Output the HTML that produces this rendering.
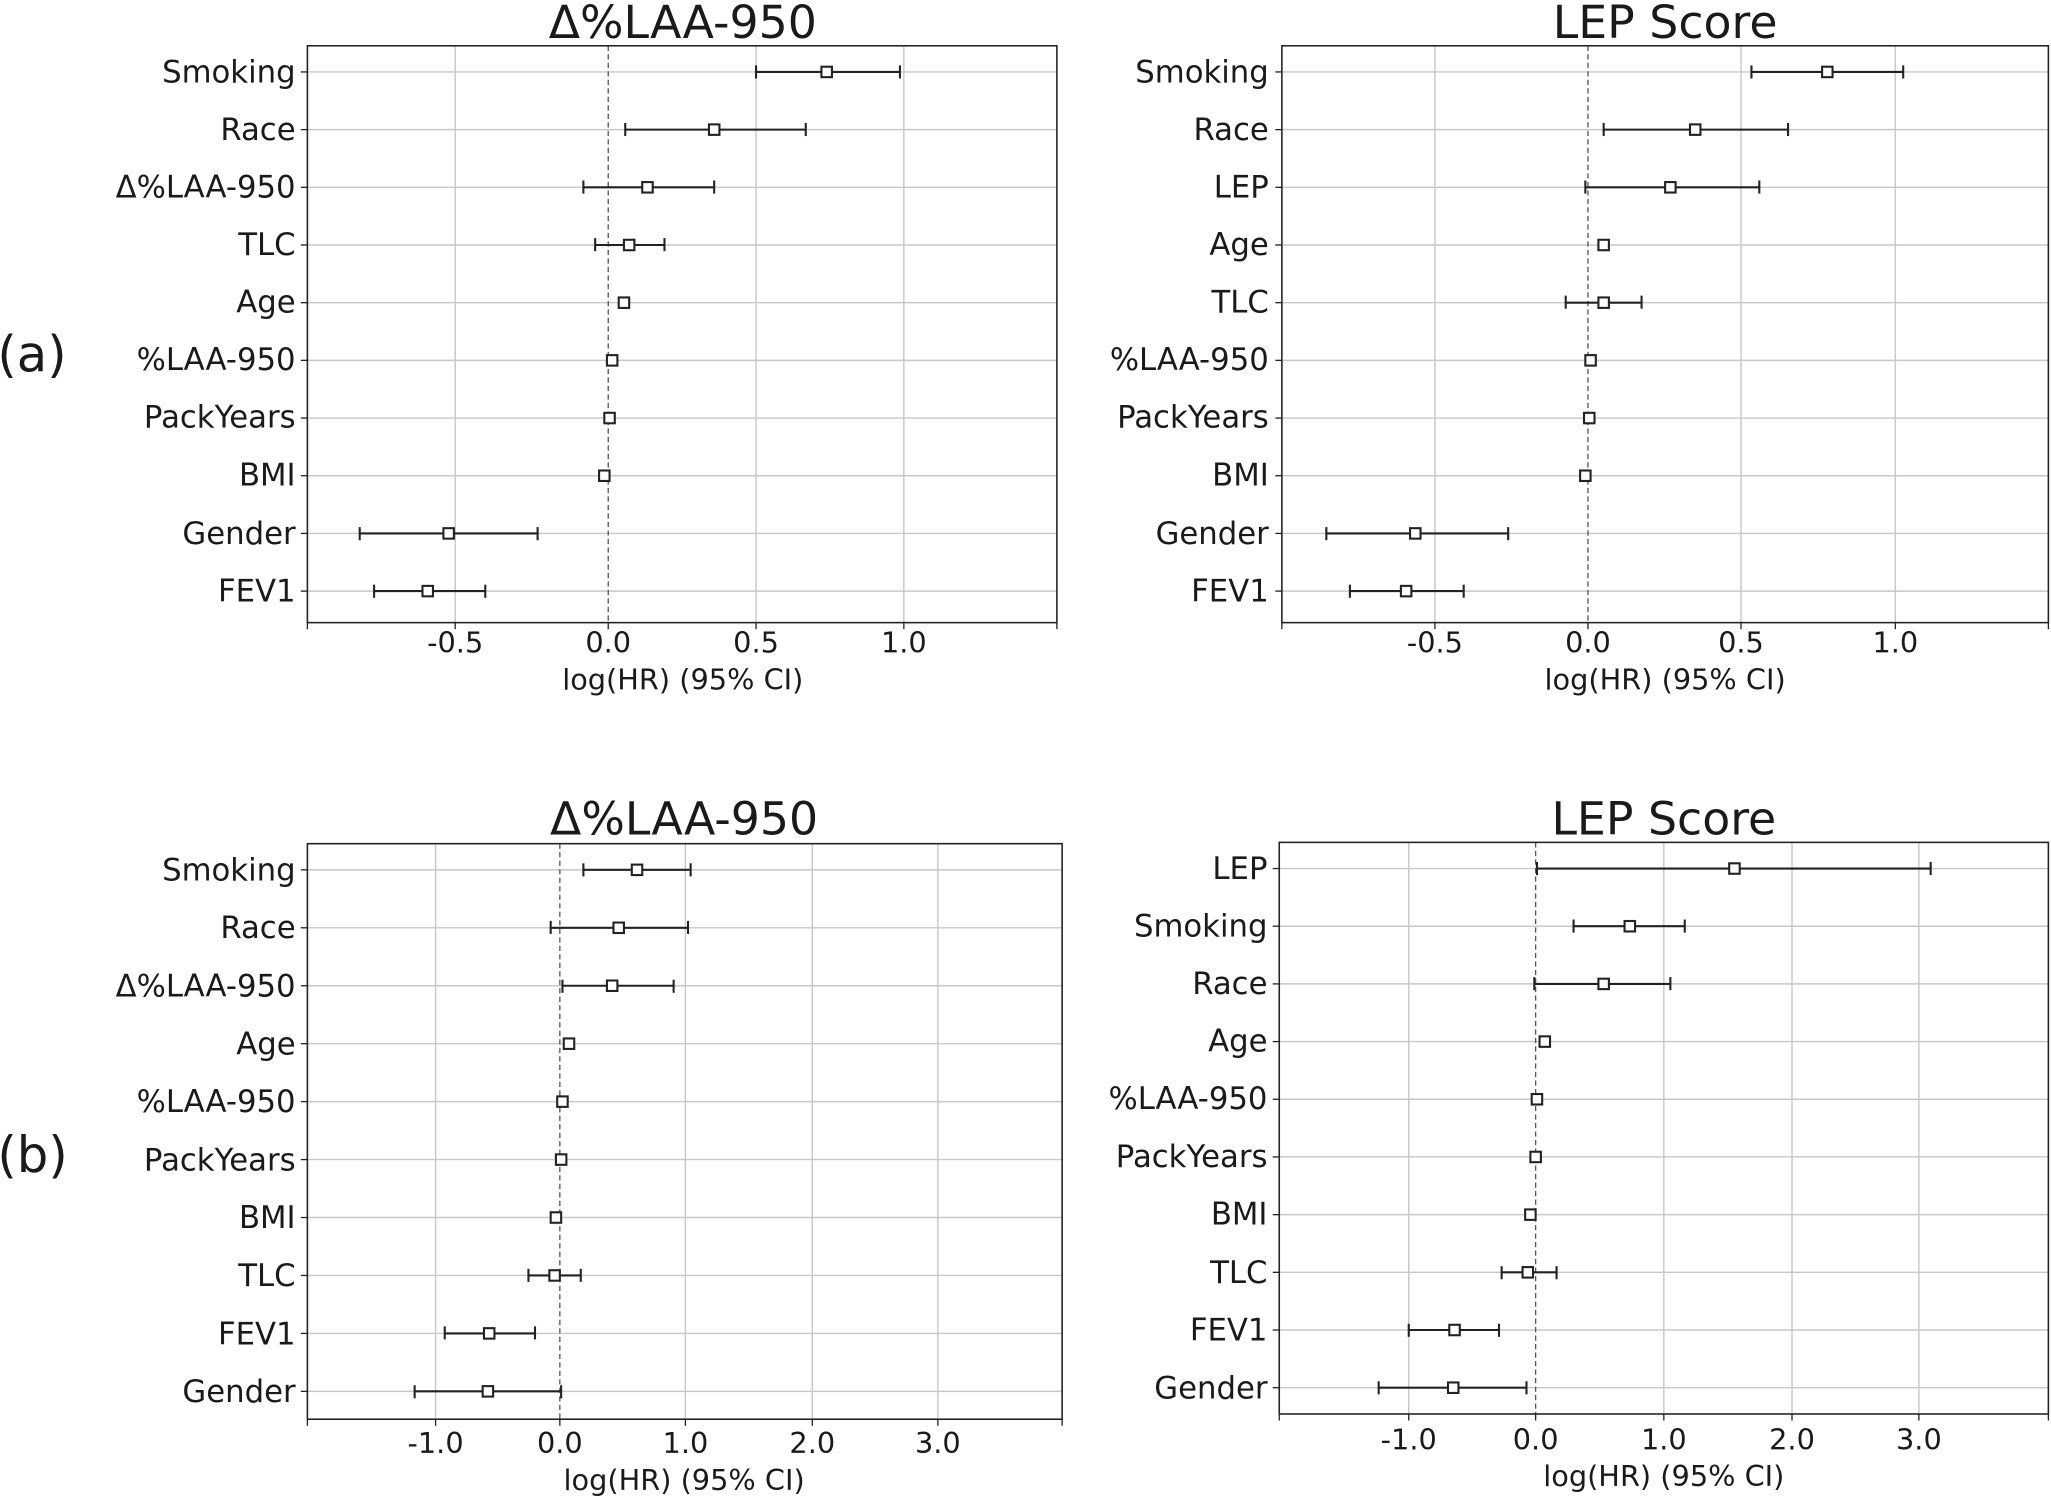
<!DOCTYPE html>
<html><head><meta charset="utf-8"><style>
html,body{margin:0;padding:0;background:#fff;}
svg{display:block;}
text{font-family:"DejaVu Sans","Liberation Sans",sans-serif;fill:#1a1a1a;}
.g{stroke:#c8c8c8;stroke-width:1.1;}
.z{stroke:#555;stroke-width:1;stroke-dasharray:4,2.5;}
.f{fill:none;stroke:#222;stroke-width:1.2;}
.e{stroke:#222;stroke-width:1.6;}
.s{fill:#fff;stroke:#222;stroke-width:1.6;}
.t{stroke:#222;stroke-width:1;}
.yl{font-size:23.5px;text-anchor:end;}
.xl{font-size:22px;text-anchor:middle;}
.ti{font-size:35px;text-anchor:middle;}
</style></head><body>
<svg width="2051" height="1496" viewBox="0 0 1568 1143.7" xmlns="http://www.w3.org/2000/svg">
<text x="-2" y="284" style="font-size:38px">(a)</text>
<text x="-2" y="896" style="font-size:38px">(b)</text>

<!-- Panel A1 -->
<g>
<text class="ti" x="522" y="29">Δ%LAA-950</text>
<line class="g" x1="348" y1="35" x2="348" y2="476"/><line class="g" x1="578" y1="35" x2="578" y2="476"/><line class="g" x1="691" y1="35" x2="691" y2="476"/>
<line class="g" x1="235" y1="55" x2="808" y2="55"/><line class="g" x1="235" y1="99.1" x2="808" y2="99.1"/><line class="g" x1="235" y1="143.2" x2="808" y2="143.2"/><line class="g" x1="235" y1="187.3" x2="808" y2="187.3"/><line class="g" x1="235" y1="231.4" x2="808" y2="231.4"/><line class="g" x1="235" y1="275.5" x2="808" y2="275.5"/><line class="g" x1="235" y1="319.6" x2="808" y2="319.6"/><line class="g" x1="235" y1="363.7" x2="808" y2="363.7"/><line class="g" x1="235" y1="407.8" x2="808" y2="407.8"/><line class="g" x1="235" y1="451.9" x2="808" y2="451.9"/>
<line class="z" x1="465" y1="35" x2="465" y2="476"/>
<rect class="f" x="235" y="35" width="573" height="441"/>
<g class="t"><line x1="230" y1="55" x2="235" y2="55"/><line x1="230" y1="99.1" x2="235" y2="99.1"/><line x1="230" y1="143.2" x2="235" y2="143.2"/><line x1="230" y1="187.3" x2="235" y2="187.3"/><line x1="230" y1="231.4" x2="235" y2="231.4"/><line x1="230" y1="275.5" x2="235" y2="275.5"/><line x1="230" y1="319.6" x2="235" y2="319.6"/><line x1="230" y1="363.7" x2="235" y2="363.7"/><line x1="230" y1="407.8" x2="235" y2="407.8"/><line x1="230" y1="451.9" x2="235" y2="451.9"/>
<line x1="235" y1="476" x2="235" y2="481"/><line x1="348" y1="476" x2="348" y2="481"/><line x1="465" y1="476" x2="465" y2="481"/><line x1="578" y1="476" x2="578" y2="481"/><line x1="691" y1="476" x2="691" y2="481"/><line x1="808" y1="476" x2="808" y2="481"/></g>
<text class="yl" x="226" y="63">Smoking</text><text class="yl" x="226" y="107">Race</text><text class="yl" x="226" y="151">Δ%LAA-950</text><text class="yl" x="226" y="195">TLC</text><text class="yl" x="226" y="239">Age</text><text class="yl" x="226" y="283">%LAA-950</text><text class="yl" x="226" y="327">PackYears</text><text class="yl" x="226" y="371">BMI</text><text class="yl" x="226" y="416">Gender</text><text class="yl" x="226" y="460">FEV1</text>
<text class="xl" x="348" y="499">-0.5</text><text class="xl" x="465" y="499">0.0</text><text class="xl" x="578" y="499">0.5</text><text class="xl" x="691" y="499">1.0</text>
<text class="xl" x="522" y="527">log(HR) (95% CI)</text>
<g class="e">
<line x1="578" y1="55" x2="688" y2="55"/><line x1="578" y1="50" x2="578" y2="60"/><line x1="688" y1="50" x2="688" y2="60"/>
<line x1="478" y1="99.1" x2="616" y2="99.1"/><line x1="478" y1="94" x2="478" y2="104"/><line x1="616" y1="94" x2="616" y2="104"/>
<line x1="446" y1="143.2" x2="546" y2="143.2"/><line x1="446" y1="138" x2="446" y2="148"/><line x1="546" y1="138" x2="546" y2="148"/>
<line x1="455" y1="187.3" x2="508" y2="187.3"/><line x1="455" y1="182" x2="455" y2="192"/><line x1="508" y1="182" x2="508" y2="192"/>
<line x1="275" y1="407.8" x2="411" y2="407.8"/><line x1="275" y1="403" x2="275" y2="413"/><line x1="411" y1="403" x2="411" y2="413"/>
<line x1="286" y1="451.9" x2="371" y2="451.9"/><line x1="286" y1="447" x2="286" y2="457"/><line x1="371" y1="447" x2="371" y2="457"/>
</g>
<g class="s"><rect x="628" y="51" width="8" height="8"/><rect x="542" y="95.1" width="8" height="8"/><rect x="491" y="139.2" width="8" height="8"/><rect x="477" y="183.3" width="8" height="8"/><rect x="473" y="227.4" width="8" height="8"/><rect x="464" y="271.5" width="8" height="8"/><rect x="462" y="315.6" width="8" height="8"/><rect x="458" y="359.7" width="8" height="8"/><rect x="339" y="403.8" width="8" height="8"/><rect x="323" y="447.9" width="8" height="8"/></g>
</g>

<!-- Panel A2 -->
<g>
<text class="ti" x="1273" y="29">LEP Score</text>
<line class="g" x1="1097" y1="35" x2="1097" y2="476"/><line class="g" x1="1331" y1="35" x2="1331" y2="476"/><line class="g" x1="1449" y1="35" x2="1449" y2="476"/>
<line class="g" x1="980" y1="55" x2="1566" y2="55"/><line class="g" x1="980" y1="99.1" x2="1566" y2="99.1"/><line class="g" x1="980" y1="143.2" x2="1566" y2="143.2"/><line class="g" x1="980" y1="187.3" x2="1566" y2="187.3"/><line class="g" x1="980" y1="231.4" x2="1566" y2="231.4"/><line class="g" x1="980" y1="275.5" x2="1566" y2="275.5"/><line class="g" x1="980" y1="319.6" x2="1566" y2="319.6"/><line class="g" x1="980" y1="363.7" x2="1566" y2="363.7"/><line class="g" x1="980" y1="407.8" x2="1566" y2="407.8"/><line class="g" x1="980" y1="451.9" x2="1566" y2="451.9"/>
<line class="z" x1="1214" y1="35" x2="1214" y2="476"/>
<rect class="f" x="980" y="35" width="586" height="441"/>
<g class="t"><line x1="975" y1="55" x2="980" y2="55"/><line x1="975" y1="99.1" x2="980" y2="99.1"/><line x1="975" y1="143.2" x2="980" y2="143.2"/><line x1="975" y1="187.3" x2="980" y2="187.3"/><line x1="975" y1="231.4" x2="980" y2="231.4"/><line x1="975" y1="275.5" x2="980" y2="275.5"/><line x1="975" y1="319.6" x2="980" y2="319.6"/><line x1="975" y1="363.7" x2="980" y2="363.7"/><line x1="975" y1="407.8" x2="980" y2="407.8"/><line x1="975" y1="451.9" x2="980" y2="451.9"/>
<line x1="980" y1="476" x2="980" y2="481"/><line x1="1097" y1="476" x2="1097" y2="481"/><line x1="1214" y1="476" x2="1214" y2="481"/><line x1="1331" y1="476" x2="1331" y2="481"/><line x1="1449" y1="476" x2="1449" y2="481"/><line x1="1566" y1="476" x2="1566" y2="481"/></g>
<text class="yl" x="970" y="63">Smoking</text><text class="yl" x="970" y="107">Race</text><text class="yl" x="970" y="151">LEP</text><text class="yl" x="970" y="195">Age</text><text class="yl" x="970" y="239">TLC</text><text class="yl" x="970" y="283">%LAA-950</text><text class="yl" x="970" y="327">PackYears</text><text class="yl" x="970" y="371">BMI</text><text class="yl" x="970" y="416">Gender</text><text class="yl" x="970" y="460">FEV1</text>
<text class="xl" x="1097" y="499">-0.5</text><text class="xl" x="1214" y="499">0.0</text><text class="xl" x="1331" y="499">0.5</text><text class="xl" x="1449" y="499">1.0</text>
<text class="xl" x="1273" y="527">log(HR) (95% CI)</text>
<g class="e">
<line x1="1339" y1="55" x2="1455" y2="55"/><line x1="1339" y1="50" x2="1339" y2="60"/><line x1="1455" y1="50" x2="1455" y2="60"/>
<line x1="1226" y1="99.1" x2="1367" y2="99.1"/><line x1="1226" y1="94" x2="1226" y2="104"/><line x1="1367" y1="94" x2="1367" y2="104"/>
<line x1="1212" y1="143.2" x2="1345" y2="143.2"/><line x1="1212" y1="138" x2="1212" y2="148"/><line x1="1345" y1="138" x2="1345" y2="148"/>
<line x1="1197" y1="231.4" x2="1255" y2="231.4"/><line x1="1197" y1="226" x2="1197" y2="236"/><line x1="1255" y1="226" x2="1255" y2="236"/>
<line x1="1014" y1="407.8" x2="1153" y2="407.8"/><line x1="1014" y1="403" x2="1014" y2="413"/><line x1="1153" y1="403" x2="1153" y2="413"/>
<line x1="1032" y1="451.9" x2="1119" y2="451.9"/><line x1="1032" y1="447" x2="1032" y2="457"/><line x1="1119" y1="447" x2="1119" y2="457"/>
</g>
<g class="s"><rect x="1393" y="51" width="8" height="8"/><rect x="1292" y="95.1" width="8" height="8"/><rect x="1273" y="139.2" width="8" height="8"/><rect x="1222" y="183.3" width="8" height="8"/><rect x="1222" y="227.4" width="8" height="8"/><rect x="1212" y="271.5" width="8" height="8"/><rect x="1211" y="315.6" width="8" height="8"/><rect x="1208" y="359.7" width="8" height="8"/><rect x="1078" y="403.8" width="8" height="8"/><rect x="1071" y="447.9" width="8" height="8"/></g>
</g>

<!-- Panel B1 -->
<g>
<text class="ti" x="523" y="638">Δ%LAA-950</text>
<line class="g" x1="333" y1="645" x2="333" y2="1085"/><line class="g" x1="524" y1="645" x2="524" y2="1085"/><line class="g" x1="621" y1="645" x2="621" y2="1085"/><line class="g" x1="717" y1="645" x2="717" y2="1085"/>
<line class="g" x1="235" y1="665" x2="812" y2="665"/><line class="g" x1="235" y1="709.3" x2="812" y2="709.3"/><line class="g" x1="235" y1="753.6" x2="812" y2="753.6"/><line class="g" x1="235" y1="797.9" x2="812" y2="797.9"/><line class="g" x1="235" y1="842.2" x2="812" y2="842.2"/><line class="g" x1="235" y1="886.5" x2="812" y2="886.5"/><line class="g" x1="235" y1="930.8" x2="812" y2="930.8"/><line class="g" x1="235" y1="975.1" x2="812" y2="975.1"/><line class="g" x1="235" y1="1019.4" x2="812" y2="1019.4"/><line class="g" x1="235" y1="1063.7" x2="812" y2="1063.7"/>
<line class="z" x1="428" y1="645" x2="428" y2="1085"/>
<rect class="f" x="235" y="645" width="577" height="440"/>
<g class="t"><line x1="230" y1="665" x2="235" y2="665"/><line x1="230" y1="709.3" x2="235" y2="709.3"/><line x1="230" y1="753.6" x2="235" y2="753.6"/><line x1="230" y1="797.9" x2="235" y2="797.9"/><line x1="230" y1="842.2" x2="235" y2="842.2"/><line x1="230" y1="886.5" x2="235" y2="886.5"/><line x1="230" y1="930.8" x2="235" y2="930.8"/><line x1="230" y1="975.1" x2="235" y2="975.1"/><line x1="230" y1="1019.4" x2="235" y2="1019.4"/><line x1="230" y1="1063.7" x2="235" y2="1063.7"/>
<line x1="235" y1="1085" x2="235" y2="1090"/><line x1="333" y1="1085" x2="333" y2="1090"/><line x1="428" y1="1085" x2="428" y2="1090"/><line x1="524" y1="1085" x2="524" y2="1090"/><line x1="621" y1="1085" x2="621" y2="1090"/><line x1="717" y1="1085" x2="717" y2="1090"/><line x1="812" y1="1085" x2="812" y2="1090"/></g>
<text class="yl" x="226" y="673">Smoking</text><text class="yl" x="226" y="717">Race</text><text class="yl" x="226" y="762">Δ%LAA-950</text><text class="yl" x="226" y="806">Age</text><text class="yl" x="226" y="850">%LAA-950</text><text class="yl" x="226" y="895">PackYears</text><text class="yl" x="226" y="939">BMI</text><text class="yl" x="226" y="983">TLC</text><text class="yl" x="226" y="1028">FEV1</text><text class="yl" x="226" y="1072">Gender</text>
<text class="xl" x="333" y="1111">-1.0</text><text class="xl" x="428" y="1111">0.0</text><text class="xl" x="524" y="1111">1.0</text><text class="xl" x="621" y="1111">2.0</text><text class="xl" x="717" y="1111">3.0</text>
<text class="xl" x="523" y="1139">log(HR) (95% CI)</text>
<g class="e">
<line x1="446" y1="665" x2="528" y2="665"/><line x1="446" y1="660" x2="446" y2="670"/><line x1="528" y1="660" x2="528" y2="670"/>
<line x1="421" y1="709.3" x2="526" y2="709.3"/><line x1="421" y1="704" x2="421" y2="714"/><line x1="526" y1="704" x2="526" y2="714"/>
<line x1="430" y1="753.6" x2="515" y2="753.6"/><line x1="430" y1="749" x2="430" y2="759"/><line x1="515" y1="749" x2="515" y2="759"/>
<line x1="404" y1="975.1" x2="444" y2="975.1"/><line x1="404" y1="970" x2="404" y2="980"/><line x1="444" y1="970" x2="444" y2="980"/>
<line x1="340" y1="1019.4" x2="409" y2="1019.4"/><line x1="340" y1="1014" x2="340" y2="1024"/><line x1="409" y1="1014" x2="409" y2="1024"/>
<line x1="317" y1="1063.7" x2="429" y2="1063.7"/><line x1="317" y1="1059" x2="317" y2="1069"/><line x1="429" y1="1059" x2="429" y2="1069"/>
</g>
<g class="s"><rect x="483" y="661" width="8" height="8"/><rect x="469" y="705.3" width="8" height="8"/><rect x="464" y="749.6" width="8" height="8"/><rect x="431" y="793.9" width="8" height="8"/><rect x="426" y="838.2" width="8" height="8"/><rect x="425" y="882.5" width="8" height="8"/><rect x="421" y="926.8" width="8" height="8"/><rect x="420" y="971.1" width="8" height="8"/><rect x="370" y="1015.4" width="8" height="8"/><rect x="369" y="1059.7" width="8" height="8"/></g>
</g>

<!-- Panel B2 -->
<g>
<text class="ti" x="1272" y="638">LEP Score</text>
<line class="g" x1="1077" y1="644" x2="1077" y2="1081"/><line class="g" x1="1272" y1="644" x2="1272" y2="1081"/><line class="g" x1="1370" y1="644" x2="1370" y2="1081"/><line class="g" x1="1467" y1="644" x2="1467" y2="1081"/>
<line class="g" x1="978" y1="664" x2="1566" y2="664"/><line class="g" x1="978" y1="708.1" x2="1566" y2="708.1"/><line class="g" x1="978" y1="752.2" x2="1566" y2="752.2"/><line class="g" x1="978" y1="796.3" x2="1566" y2="796.3"/><line class="g" x1="978" y1="840.4" x2="1566" y2="840.4"/><line class="g" x1="978" y1="884.5" x2="1566" y2="884.5"/><line class="g" x1="978" y1="928.6" x2="1566" y2="928.6"/><line class="g" x1="978" y1="972.7" x2="1566" y2="972.7"/><line class="g" x1="978" y1="1016.8" x2="1566" y2="1016.8"/><line class="g" x1="978" y1="1060.9" x2="1566" y2="1060.9"/>
<line class="z" x1="1174" y1="644" x2="1174" y2="1081"/>
<rect class="f" x="978" y="644" width="588" height="437"/>
<g class="t"><line x1="973" y1="664" x2="978" y2="664"/><line x1="973" y1="708.1" x2="978" y2="708.1"/><line x1="973" y1="752.2" x2="978" y2="752.2"/><line x1="973" y1="796.3" x2="978" y2="796.3"/><line x1="973" y1="840.4" x2="978" y2="840.4"/><line x1="973" y1="884.5" x2="978" y2="884.5"/><line x1="973" y1="928.6" x2="978" y2="928.6"/><line x1="973" y1="972.7" x2="978" y2="972.7"/><line x1="973" y1="1016.8" x2="978" y2="1016.8"/><line x1="973" y1="1060.9" x2="978" y2="1060.9"/>
<line x1="978" y1="1081" x2="978" y2="1086"/><line x1="1077" y1="1081" x2="1077" y2="1086"/><line x1="1174" y1="1081" x2="1174" y2="1086"/><line x1="1272" y1="1081" x2="1272" y2="1086"/><line x1="1370" y1="1081" x2="1370" y2="1086"/><line x1="1467" y1="1081" x2="1467" y2="1086"/><line x1="1566" y1="1081" x2="1566" y2="1086"/></g>
<text class="yl" x="969" y="672">LEP</text><text class="yl" x="969" y="716">Smoking</text><text class="yl" x="969" y="760">Race</text><text class="yl" x="969" y="804">Age</text><text class="yl" x="969" y="848">%LAA-950</text><text class="yl" x="969" y="892">PackYears</text><text class="yl" x="969" y="936">BMI</text><text class="yl" x="969" y="981">TLC</text><text class="yl" x="969" y="1025">FEV1</text><text class="yl" x="969" y="1069">Gender</text>
<text class="xl" x="1077" y="1108">-1.0</text><text class="xl" x="1174" y="1108">0.0</text><text class="xl" x="1272" y="1108">1.0</text><text class="xl" x="1370" y="1108">2.0</text><text class="xl" x="1467" y="1108">3.0</text>
<text class="xl" x="1272" y="1136">log(HR) (95% CI)</text>
<g class="e">
<line x1="1175" y1="664" x2="1476" y2="664"/><line x1="1175" y1="659" x2="1175" y2="669"/><line x1="1476" y1="659" x2="1476" y2="669"/>
<line x1="1203" y1="708.1" x2="1288" y2="708.1"/><line x1="1203" y1="703" x2="1203" y2="713"/><line x1="1288" y1="703" x2="1288" y2="713"/>
<line x1="1173" y1="752.2" x2="1277" y2="752.2"/><line x1="1173" y1="747" x2="1173" y2="757"/><line x1="1277" y1="747" x2="1277" y2="757"/>
<line x1="1148" y1="972.7" x2="1190" y2="972.7"/><line x1="1148" y1="968" x2="1148" y2="978"/><line x1="1190" y1="968" x2="1190" y2="978"/>
<line x1="1077" y1="1016.8" x2="1146" y2="1016.8"/><line x1="1077" y1="1012" x2="1077" y2="1022"/><line x1="1146" y1="1012" x2="1146" y2="1022"/>
<line x1="1054" y1="1060.9" x2="1167" y2="1060.9"/><line x1="1054" y1="1056" x2="1054" y2="1066"/><line x1="1167" y1="1056" x2="1167" y2="1066"/>
</g>
<g class="s"><rect x="1322" y="660" width="8" height="8"/><rect x="1242" y="704.1" width="8" height="8"/><rect x="1222" y="748.2" width="8" height="8"/><rect x="1177" y="792.3" width="8" height="8"/><rect x="1171" y="836.4" width="8" height="8"/><rect x="1170" y="880.5" width="8" height="8"/><rect x="1166" y="924.6" width="8" height="8"/><rect x="1164" y="968.7" width="8" height="8"/><rect x="1108" y="1012.8" width="8" height="8"/><rect x="1107" y="1056.9" width="8" height="8"/></g>
</g>
</svg>
</body></html>
